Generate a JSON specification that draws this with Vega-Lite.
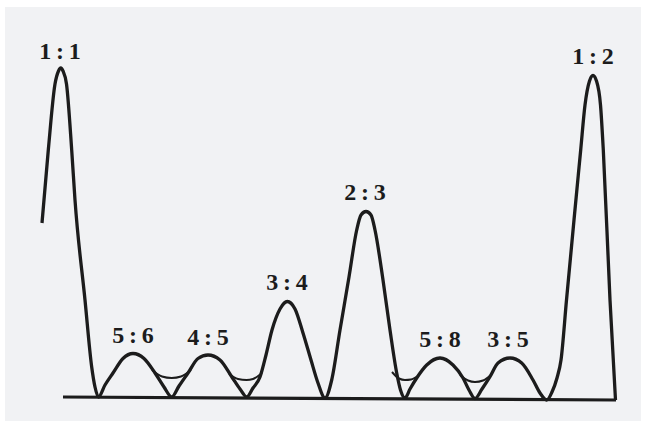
{
  "$schema": "https://vega.github.io/schema/vega-lite/v6.json",
  "width": 645,
  "height": 424,
  "autosize": {"type": "fit", "contains": "padding"},
  "padding": {"left": 5, "top": 7, "right": 4, "bottom": 3},
  "background": "#ffffff",
  "config": {"view": {"stroke": null, "fill": "#f1f2f4"}},
  "datasets": {
    "curve": [
      {"x": 42, "y": 177}, {"x": 48.3, "y": 250}, {"x": 55, "y": 316}, {"x": 58.5, "y": 329}, {"x": 60.8, "y": 332}, {"x": 63, "y": 329},
      {"x": 66.5, "y": 316}, {"x": 71.7, "y": 250}, {"x": 75, "y": 200}, {"x": 85, "y": 100}, {"x": 91.7, "y": 33}, {"x": 95, "y": 13},
      {"x": 98.5, "y": 3}, {"x": 105, "y": 15}, {"x": 113, "y": 27}, {"x": 123, "y": 41.5}, {"x": 133, "y": 46.5},
      {"x": 144, "y": 41.5}, {"x": 155, "y": 27}, {"x": 164, "y": 13}, {"x": 171.7, "y": 3}, {"x": 179, "y": 14},
      {"x": 188, "y": 27}, {"x": 198, "y": 41.5}, {"x": 208, "y": 45}, {"x": 220, "y": 40}, {"x": 231.7, "y": 23.3},
      {"x": 240, "y": 11}, {"x": 246.7, "y": 3}, {"x": 253, "y": 12}, {"x": 260, "y": 23}, {"x": 266, "y": 45},
      {"x": 272, "y": 70}, {"x": 280, "y": 91}, {"x": 287.3, "y": 98.5}, {"x": 295, "y": 91}, {"x": 303, "y": 67},
      {"x": 311, "y": 40}, {"x": 318, "y": 17}, {"x": 325, "y": 2}, {"x": 331.7, "y": 20}, {"x": 340, "y": 70},
      {"x": 349, "y": 123}, {"x": 356.7, "y": 170}, {"x": 361, "y": 185}, {"x": 366, "y": 188.5}, {"x": 371, "y": 185},
      {"x": 375, "y": 170}, {"x": 383, "y": 120}, {"x": 390, "y": 70}, {"x": 396.7, "y": 27}, {"x": 400.5, "y": 10},
      {"x": 405, "y": 2}, {"x": 410, "y": 11}, {"x": 416.7, "y": 22}, {"x": 426.7, "y": 35}, {"x": 440, "y": 42},
      {"x": 453, "y": 35}, {"x": 463, "y": 22}, {"x": 469, "y": 10}, {"x": 475, "y": 1.5}, {"x": 482, "y": 11},
      {"x": 490, "y": 23.3}, {"x": 498, "y": 37}, {"x": 510, "y": 42}, {"x": 521.7, "y": 37}, {"x": 533, "y": 20},
      {"x": 540, "y": 7}, {"x": 546.7, "y": 0}, {"x": 552, "y": 8}, {"x": 557, "y": 22}, {"x": 561, "y": 40},
      {"x": 566.5, "y": 100}, {"x": 574, "y": 180}, {"x": 580.7, "y": 250}, {"x": 585, "y": 295}, {"x": 589.5, "y": 319},
      {"x": 593, "y": 324.5}, {"x": 596.5, "y": 319}, {"x": 600.5, "y": 295}, {"x": 603.3, "y": 250}, {"x": 610, "y": 100},
      {"x": 615.5, "y": 0}
    ],
    "thin": [
      {"g": "a", "x": 152, "y": 30}, {"g": "a", "x": 162, "y": 23.5}, {"g": "a", "x": 171.7, "y": 22}, {"g": "a", "x": 181, "y": 23.5}, {"g": "a", "x": 191, "y": 30},
      {"g": "b", "x": 229, "y": 26}, {"g": "b", "x": 238, "y": 21}, {"g": "b", "x": 246.5, "y": 20}, {"g": "b", "x": 253, "y": 21}, {"g": "b", "x": 262, "y": 27},
      {"g": "c", "x": 392, "y": 28}, {"g": "c", "x": 399, "y": 21.5}, {"g": "c", "x": 405, "y": 20}, {"g": "c", "x": 411, "y": 20.5}, {"g": "c", "x": 418, "y": 24}
      ,
      {"g": "d", "x": 460, "y": 25}, {"g": "d", "x": 468, "y": 19.5}, {"g": "d", "x": 475, "y": 18}, {"g": "d", "x": 483, "y": 19.5}, {"g": "d", "x": 491, "y": 25}
    ],
    "base": [
      {"x": 63, "y": 3}, {"x": 616, "y": 0}
    ],
    "labels": [
      {"ratio": "1\u2009:\u20091", "x": 60, "y": 348.3},
      {"ratio": "5\u2009:\u20096", "x": 133, "y": 64.2},
      {"ratio": "4\u2009:\u20095", "x": 208, "y": 62.5},
      {"ratio": "3\u2009:\u20094", "x": 287, "y": 117},
      {"ratio": "2\u2009:\u20093", "x": 365, "y": 206.7},
      {"ratio": "5\u2009:\u20098", "x": 440, "y": 60},
      {"ratio": "3\u2009:\u20095", "x": 508, "y": 60},
      {"ratio": "1\u2009:\u20092", "x": 593, "y": 343.3}
    ]
  },
  "encoding": {
    "x": {"field": "x", "type": "quantitative", "scale": {"domain": [5, 641], "nice": false, "zero": false}, "axis": null},
    "y": {"field": "y", "type": "quantitative", "scale": {"domain": [-21, 393], "nice": false, "zero": false}, "axis": null}
  },
  "layer": [
    {
      "data": {"name": "base"},
      "mark": {"type": "line", "color": "#1c1c1c", "strokeWidth": 3.2, "clip": false}
    },
    {
      "data": {"name": "thin"},
      "mark": {"type": "line", "color": "#1c1c1c", "strokeWidth": 2, "interpolate": "monotone"},
      "encoding": {"detail": {"field": "g", "type": "nominal"}}
    },
    {
      "data": {"name": "curve"},
      "mark": {"type": "line", "color": "#1c1c1c", "strokeWidth": 3.3, "interpolate": "monotone", "strokeJoin": "round", "strokeCap": "butt"}
    },
    {
      "data": {"name": "labels"},
      "mark": {"type": "text", "font": "Liberation Serif, Times New Roman, serif", "fontWeight": "bold", "fontSize": 24, "color": "#1c1c1c", "baseline": "middle", "align": "center"},
      "encoding": {"text": {"field": "ratio", "type": "nominal"}}
    }
  ]
}
